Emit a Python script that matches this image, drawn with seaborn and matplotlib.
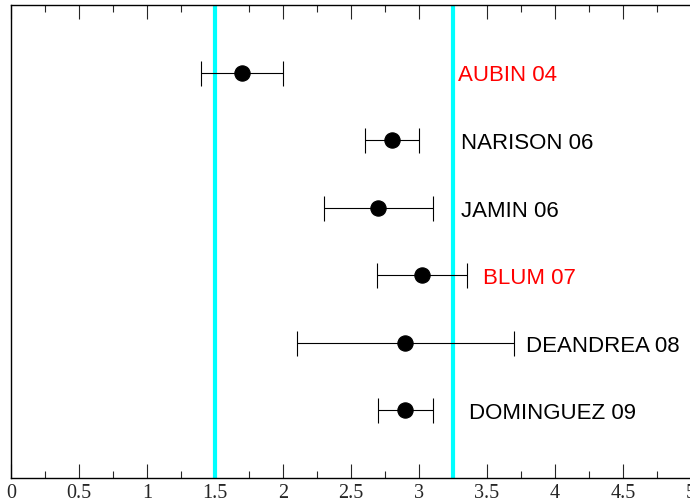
import numpy as np
import pandas as pd
import matplotlib
matplotlib.use("Agg")
import matplotlib.pyplot as plt
from matplotlib.ticker import MultipleLocator
import seaborn as sns

# ── Data ──────────────────────────────────────────────────────────────────────
labels  = ["AUBIN 04", "NARISON 06", "JAMIN 06", "BLUM 07", "DEANDREA 08", "DOMINGUEZ 09"]
values  = [1.70, 2.80, 2.70, 3.02, 2.90, 2.90]
errors  = [0.30, 0.20, 0.40, 0.33, 0.80, 0.20]
rows    = [6, 5, 4, 3, 2, 1]
colors  = ["red", "black", "black", "red", "black", "black"]
label_x = [3.29, 3.31, 3.31, 3.47, 3.79, 3.37]
bands   = [1.5, 3.25]
xticks  = ["0", "0.5", "1", "1.5", "2", "2.5", "3", "3.5", "4", "4.5", "5"]

df = pd.DataFrame({"label": labels, "value": values, "err": errors, "row": rows})

sns.set_style("ticks")

fig = plt.figure(figsize=(6.9, 5.04), dpi=100)
ax = fig.add_axes([0.016, 0.0516, 0.9854, 0.9384])

for b in bands:
    ax.axvline(b, color="#00FFFF", lw=3, zorder=1)

ax.errorbar(df["value"], df["row"], xerr=df["err"], fmt="none",
            ecolor="black", elinewidth=0.8, capsize=9, capthick=0.8, zorder=2)
sns.scatterplot(data=df, x="value", y="row", color="black", s=120,
                edgecolor="black", ax=ax, zorder=3, legend=False)

for lab, x, y, c in zip(labels, label_x, rows, colors):
    ax.text(x, y - 0.05, lab, color=c, fontsize=16, va="center", ha="left",
            family="Liberation Sans")

ax.set_xlim(0, 5)
ax.set_ylim(0, 7)
ax.set_xlabel("")
ax.set_ylabel("")
ax.set_yticks([])
ax.set_xticks(np.arange(0, 5.01, 0.5))
ax.set_xticklabels(xticks, family="Liberation Serif", fontsize=14.5)
ax.xaxis.set_minor_locator(MultipleLocator(0.25))
ax.tick_params(axis="x", which="major", direction="in", length=10, width=0.8,
               top=True, bottom=True, pad=4)
ax.tick_params(axis="x", which="minor", direction="in", length=5, width=0.8,
               top=True, bottom=True)
for s in ax.spines.values():
    s.set_linewidth(1.0)
    s.set_color("black")

fig.savefig("out.png", dpi=100)
